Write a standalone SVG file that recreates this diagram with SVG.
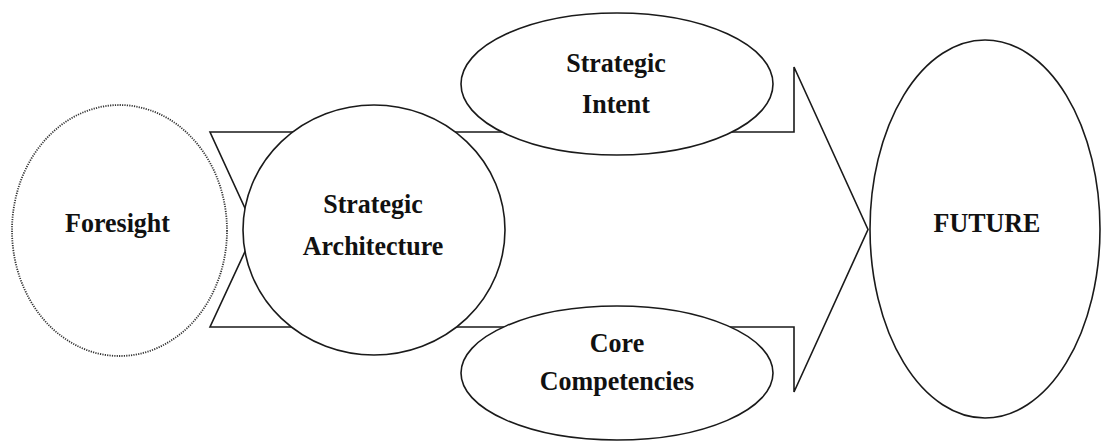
<svg xmlns="http://www.w3.org/2000/svg" width="1102" height="441" viewBox="0 0 1102 441">
<style>
.shape{fill:#fff;stroke:#1a1a1a;stroke-width:1.6}
.dot{fill:#fff;stroke:#333;stroke-width:1.8;stroke-dasharray:1.2 1.2}
.t{font-family:"Liberation Serif","Times New Roman",serif;font-weight:bold;font-size:26px;fill:#111;text-anchor:middle}
</style>
<rect width="1102" height="441" fill="#fff"/>
<g id="connectors">
<path class="shape" d="M210,132 L794,132 L794,67 L868,229.5 L794,392 L794,327 L210,327 L255,230 Z"/>
</g>
<g id="foresight">
<ellipse class="dot" cx="119.5" cy="230.5" rx="107.5" ry="125.5"/>
<text class="t" transform="translate(117.5,232) scale(1,1.08)">Foresight</text>
</g>
<g id="architecture">
<ellipse class="shape" cx="374" cy="230" rx="131" ry="125"/>
<text class="t" transform="translate(373,213) scale(1,1.08)">Strategic</text>
<text class="t" transform="translate(373,255) scale(1,1.08)">Architecture</text>
</g>
<g id="intent">
<ellipse class="shape" cx="617" cy="84" rx="156" ry="71"/>
<text class="t" transform="translate(616,72) scale(1,1.08)">Strategic</text>
<text class="t" transform="translate(616,113) scale(1,1.08)">Intent</text>
</g>
<g id="competencies">
<ellipse class="shape" cx="617" cy="373" rx="156" ry="67"/>
<text class="t" transform="translate(617,352) scale(1,1.08)">Core</text>
<text class="t" transform="translate(617,390) scale(1,1.08)">Competencies</text>
</g>
<g id="future">
<ellipse class="shape" cx="985" cy="229" rx="115" ry="189"/>
<text class="t" transform="translate(987,232) scale(1,1.08)">FUTURE</text>
</g>
</svg>
